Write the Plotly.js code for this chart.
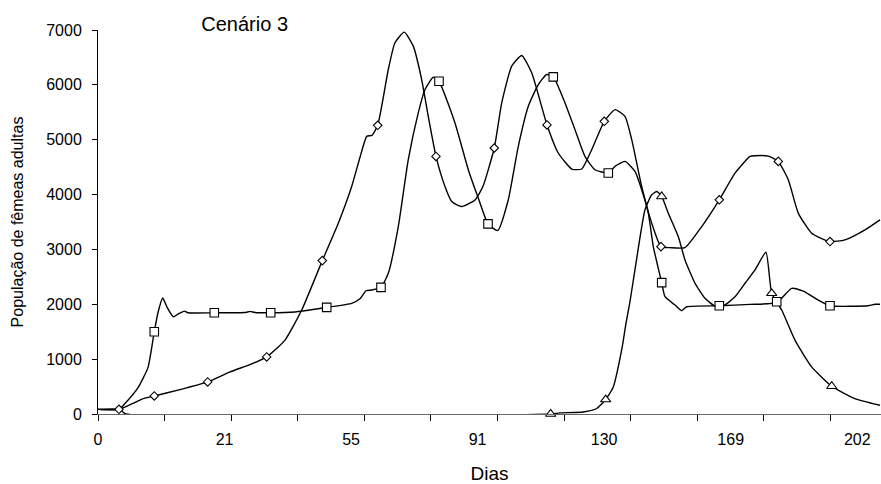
<!DOCTYPE html>
<html>
<head>
<meta charset="utf-8">
<script src="https://cdn.plot.ly/plotly-3.0.1.min.js"></script>
<style>html,body{margin:0;padding:0;background:#fff;}</style>
</head>
<body>
<div id="chart" style="width:881px;height:484px;"></div>
<script>
// x positions are category-index units (one small axis tick = 10 units)
const xTickLabelPos = [0, 19, 38, 57, 76, 95, 114];
const xTickLabels = ["0", "21", "55", "91", "130", "169", "202"];
const xMinorTicks = [0, 10, 20, 30, 40, 50, 60, 70, 80, 90, 100, 110];

// Series with diamond markers
const diamondX = [0, 3.15, 5.26, 6.80, 8.45, 12.31, 16.47, 19.82, 22.82, 25.33, 28.08, 30.59, 33.68, 36.08, 38.09, 39.34, 40.35, 41.14, 42.0, 43.59, 44.59, 45.99, 47.34, 48.60, 49.59, 50.75, 52.10, 53.11, 54.61, 56.61, 57.81, 59.50, 60.62, 62.12, 63.62, 65.12, 67.42, 69.11, 71.13, 72.63, 74.13, 76.02, 77.63, 79.13, 80.14, 81.64, 83.14, 84.53, 85.89, 88.14, 90.65, 93.29, 95.65, 97.90, 98.65, 100.65, 102.15, 103.65, 105.15, 107.16, 109.91, 112.16, 115.17, 117.42];
const diamondY = [85, 85, 195, 281, 329, 445, 585, 767, 900, 1040, 1347, 1895, 2796, 3479, 4148, 4680, 5061, 5080, 5262, 6280, 6768, 6962, 6706, 6097, 5427, 4696, 4148, 3874, 3782, 3900, 4150, 4849, 5671, 6340, 6536, 6220, 5270, 4758, 4466, 4466, 4818, 5335, 5549, 5427, 5001, 4148, 3479, 3051, 3033, 3033, 3417, 3905, 4392, 4696, 4709, 4700, 4605, 4270, 3662, 3296, 3143, 3174, 3357, 3539];
const diamondMarkX = [3.15, 8.45, 16.47, 25.33, 33.68, 42.0, 50.75, 59.50, 67.42, 76.02, 84.53, 93.29, 102.15, 109.91];
const diamondMarkY = [85, 329, 585, 1040, 2796, 5262, 4696, 4849, 5270, 5335, 3051, 3905, 4605, 3143];

// Series with square markers
const squareX = [0, 3.15, 4.05, 6.01, 7.51, 8.45, 9.01, 9.71, 10.36, 11.31, 12.01, 12.96, 13.51, 17.46, 22.07, 22.82, 23.57, 25.93, 29.58, 34.34, 38.09, 39.34, 40.24, 41.14, 42.49, 43.59, 45.09, 46.59, 48.09, 49.10, 50.35, 51.20, 53.60, 55.60, 57.10, 58.56, 60.02, 61.61, 63.11, 64.61, 66.11, 67.37, 68.36, 70.12, 71.62, 73.12, 74.62, 76.62, 77.63, 79.13, 80.63, 81.64, 82.63, 83.38, 84.64, 85.14, 86.64, 87.64, 88.39, 93.29, 97.90, 101.91, 104.16, 105.90, 108.15, 109.91, 115.66, 116.67, 117.42];
const squareY = [85, 85, 190, 480, 850, 1500, 1850, 2114, 1950, 1772, 1820, 1876, 1845, 1845, 1850, 1870, 1850, 1845, 1860, 1944, 2017, 2100, 2247, 2260, 2309, 2565, 3417, 4636, 5489, 5915, 6139, 6066, 5306, 4453, 3936, 3466, 3344, 3905, 4879, 5609, 6006, 6189, 6146, 5671, 5184, 4696, 4453, 4392, 4514, 4605, 4422, 4087, 3662, 3051, 2394, 2138, 1986, 1882, 1955, 1973, 1999, 2030, 2291, 2240, 2077, 1973, 1973, 2000, 2000];
const squareMarkX = [8.45, 17.46, 25.93, 34.34, 42.49, 51.20, 58.56, 68.36, 76.62, 84.64, 93.29, 101.91, 109.91];
const squareMarkY = [1500, 1845, 1845, 1944, 2309, 6066, 3466, 6146, 4392, 2394, 1973, 2046, 1973];

// Series with triangle markers
const triangleX = [0, 3.15, 4.20, 67.97, 69.37, 72.87, 74.88, 76.23, 77.37, 78.68, 79.28, 79.88, 80.78, 82.13, 83.14, 83.93, 84.64, 85.63, 87.13, 88.14, 89.64, 91.14, 92.64, 94.14, 95.65, 97.15, 98.65, 100.30, 101.16, 102.66, 104.65, 107.16, 110.17, 113.66, 117.42];
const triangleY = [85, 85, 0, 0, 20, 37, 100, 263, 493, 1200, 1650, 2050, 2750, 3722, 3996, 4057, 3965, 3662, 3234, 2808, 2383, 2109, 1968, 1990, 2138, 2383, 2626, 2949, 2200, 1895, 1347, 859, 506, 281, 159];
const triangleMarkX = [67.97, 76.23, 84.64, 101.16, 110.17];
const triangleMarkY = [0, 263, 3965, 2200, 506];

const FONT = "Liberation Sans, Arial, Helvetica, sans-serif";
const lineStyle = {color: "#000", width: 1.4, shape: "spline", smoothing: 0.5};

function lineTrace(x, y) {
  return {x: x, y: y, type: "scatter", mode: "lines", line: lineStyle, hoverinfo: "skip"};
}
function markTrace(x, y, symbol, size) {
  return {x: x, y: y, type: "scatter", mode: "markers", cliponaxis: false,
    marker: {symbol: symbol, size: size, color: "#fff", line: {color: "#000", width: 1.1}}};
}

const data = [
  lineTrace(triangleX, triangleY),
  lineTrace(squareX, squareY),
  lineTrace(diamondX, diamondY),
  markTrace(triangleMarkX, triangleMarkY, "triangle-up", 9),
  markTrace(squareMarkX, squareMarkY, "square", 8.5),
  markTrace(diamondMarkX, diamondMarkY, "diamond", 6.5)
];

const layout = {
  width: 881, height: 484,
  margin: {l: 98, r: 0, t: 30, b: 70},
  paper_bgcolor: "#fff", plot_bgcolor: "#fff",
  showlegend: false,
  font: {family: FONT, color: "#000", size: 16},
  title: {text: "Cenário 3", font: {family: FONT, size: 20, color: "#000"},
    xref: "container", x: 0.2777, xanchor: "center",
    yref: "container", y: 0.950, yanchor: "middle"},
  xaxis: {
    range: [0, 117.57], showgrid: false, zeroline: false,
    showline: true, linecolor: "#666", linewidth: 1,
    tickmode: "array", tickvals: xTickLabelPos, ticktext: xTickLabels,
    ticks: "outside", ticklen: 6, tickcolor: "rgba(0,0,0,0)",
    ticklabelstandoff: 5,
    tickfont: {family: FONT, size: 16, color: "#000"},
    minor: {tickmode: "array", tickvals: xMinorTicks, ticks: "outside", ticklen: 6, tickwidth: 1, tickcolor: "#000", showgrid: false},
    title: {text: "Dias", font: {family: FONT, size: 19, color: "#000"}, standoff: 20}
  },
  yaxis: {
    range: [0, 7000], tickmode: "linear", tick0: 0, dtick: 1000,
    showgrid: false, zeroline: false,
    showline: true, linecolor: "#000", linewidth: 1,
    ticks: "outside", ticklen: 5, tickwidth: 1, tickcolor: "#000",
    ticklabelstandoff: 7,
    tickfont: {family: FONT, size: 16, color: "#000"},
    title: {text: "População de fêmeas adultas", font: {family: FONT, size: 16, color: "#000"}, standoff: 18}
  }
};

Plotly.newPlot("chart", data, layout, {displayModeBar: false, staticPlot: true});
</script>
</body>
</html>
